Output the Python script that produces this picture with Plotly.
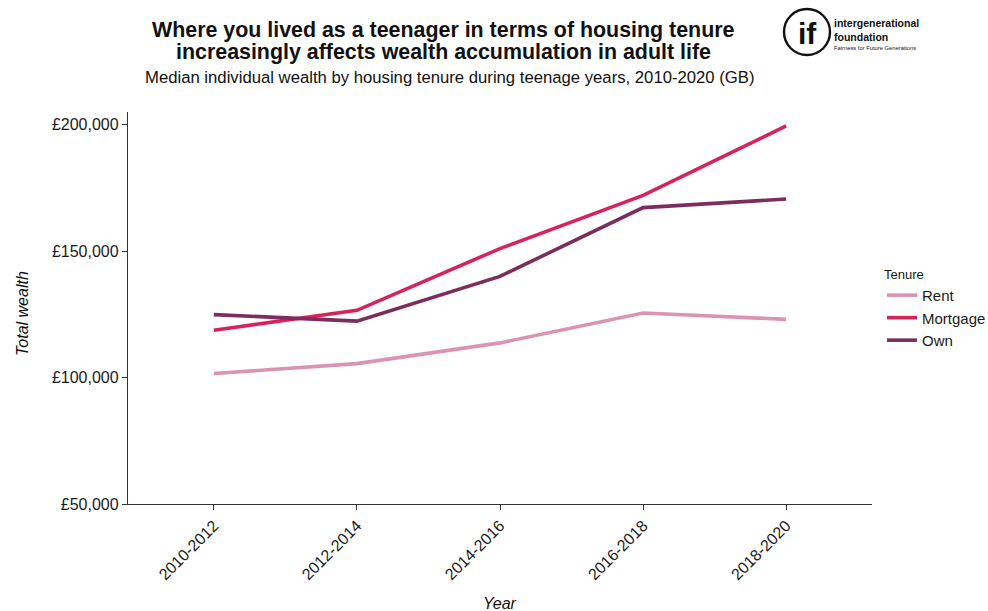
import plotly.graph_objects as go

periods = ["2010-2012", "2012-2014", "2014-2016", "2016-2018", "2018-2020"]
rent = [101600, 105500, 113700, 125500, 123000]
mortgage = [118700, 126600, 151000, 172000, 199500]
own = [124900, 122300, 140000, 167200, 170600]

y_ticks = [50000, 100000, 150000, 200000]
y_tick_text = ["£50,000", "£100,000", "£150,000", "£200,000"]

series = [
    ("Rent", rent, "#da94b2"),
    ("Mortgage", mortgage, "#d5245c"),
    ("Own", own, "#7c2d5d"),
]

FONT = "Liberation Sans, Arial, sans-serif"

fig = go.Figure()
for name, vals, col in series:
    fig.add_trace(go.Scatter(
        x=list(range(len(periods))), y=vals, name=name, mode="lines",
        line=dict(color=col, width=3.6),
    ))

W, H = 988, 611
L, R, T, B = 128, 116, 112, 107

fig.update_layout(
    width=W, height=H,
    margin=dict(l=L, r=R, t=T, b=B, autoexpand=False),
    paper_bgcolor="white", plot_bgcolor="white",
    font=dict(family=FONT, color="#1a1a1a"),
    showlegend=True,
    legend=dict(
        title=dict(text="Tenure", font=dict(size=13, color="#1a1a1a")),
        font=dict(size=15, color="#1a1a1a"),
        xref="container", yref="container",
        x=882 / W, xanchor="left", y=1 - 262 / H, yanchor="top",
        tracegroupgap=0, itemwidth=30,
        bgcolor="rgba(0,0,0,0)",
    ),
    xaxis=dict(
        range=[-0.6, 4.6],
        tickmode="array", tickvals=list(range(len(periods))), ticktext=periods,
        tickangle=-45,
        tickfont=dict(size=16, color="#1a1a1a"),
        showline=True, linecolor="#333333", linewidth=1.3,
        ticks="outside", ticklen=5, tickcolor="#333333", tickwidth=1,
        showgrid=False, zeroline=False,
    ),
    yaxis=dict(
        range=[50000, 205000],
        tickmode="array", tickvals=y_ticks, ticktext=y_tick_text,
        tickfont=dict(size=16, color="#1a1a1a"),
        showline=True, linecolor="#333333", linewidth=1.3,
        ticks="outside", ticklen=5, tickcolor="#333333", tickwidth=1,
        showgrid=False, zeroline=False,
    ),
)


def add_text(x, y, text, size, xanchor="center", yanchor="middle", color="#111111", textangle=0):
    # position given in figure pixels (origin top-left)
    fig.add_annotation(
        xref="paper", yref="paper",
        x=(x - L) / (W - L - R), y=(H - B - y) / (H - T - B),
        text=text, showarrow=False, xanchor=xanchor, yanchor=yanchor,
        textangle=textangle,
        font=dict(size=size, family=FONT, color=color),
    )


# Titles
add_text(443, 30, "<b>Where you lived as a teenager in terms of housing tenure</b>", 21.4)
add_text(443, 52, "<b>increasingly affects wealth accumulation in adult life</b>", 21.4)
add_text(450, 77, "Median individual wealth by housing tenure during teenage years, 2010-2020 (GB)", 16.7)

# Axis titles
add_text(22, 313, "<i>Total wealth</i>", 16, textangle=-90)
add_text(500, 603, "<i>Year</i>", 16)

# Logo mark
fig.add_shape(
    type="circle", xref="paper", yref="paper",
    x0=(784 - L) / (W - L - R), x1=(830 - L) / (W - L - R),
    y0=(H - B - 55) / (H - T - B), y1=(H - B - 9) / (H - T - B),
    line=dict(color="#111111", width=2.4), fillcolor="white",
)
add_text(807, 33, "<b>if</b>", 30, color="#111111")
add_text(832, 23, "<b>intergenerational</b>", 10.5, xanchor="left")
add_text(832, 37, "<b>foundation</b>", 10.5, xanchor="left")
add_text(832, 48, "Fairness for Future Generations", 5.8, xanchor="left")

fig.write_html("out.html")
